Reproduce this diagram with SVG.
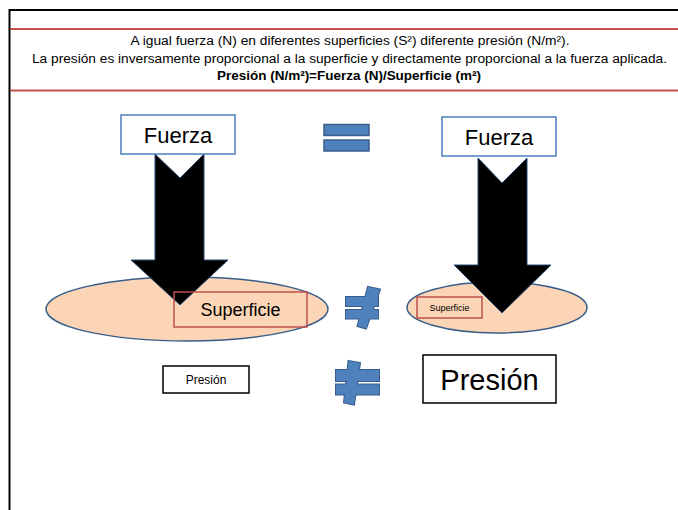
<svg xmlns="http://www.w3.org/2000/svg" width="678" height="510" viewBox="0 0 678 510">
<style>
.t{font-family:"Liberation Sans",Arial,sans-serif;fill:#000;text-anchor:middle}
.hb{fill:#fff;stroke:#4a7ebb;stroke-width:1.5}
.arrow{fill:#000;stroke:#2c4d75;stroke-width:1}
.ell{fill:#fbd5b5;stroke:#385d8a;stroke-width:1.5}
.sb{fill:none;stroke:#c0504d;stroke-width:1.5}
.pb{fill:#fff;stroke:#000;stroke-width:1.5}
.sym{fill:#4f81bd;stroke:#385d8a;stroke-width:1.5}
.symo{fill:#385d8a;stroke:#385d8a;stroke-width:2;stroke-linejoin:miter}
.symf{fill:#4f81bd}
.red{stroke:#c0504d;stroke-width:2}
</style>
<defs>
<g id="ne1">
<rect x="346" y="297" width="32" height="9"/>
<rect x="346" y="310" width="32" height="8.5"/>
<polygon points="368,287 380,289.5 366,328.5 357.5,326"/>
</g>
<g id="ne2">
<rect x="336" y="370" width="43" height="11"/>
<rect x="336" y="384.5" width="43" height="10"/>
<polygon points="348.5,361 360,363 354,404.5 344,402.5"/>
</g>
</defs>
<rect x="0" y="0" width="678" height="510" fill="#fff"/>
<g id="frame">
<path d="M9.5 510 V10 H678" fill="none" stroke="#000" stroke-width="2"/>
<line class="red" x1="10" y1="29" x2="678" y2="29"/>
<line class="red" x1="10" y1="90.5" x2="678" y2="90.5"/>
</g>
<g id="header">
<text class="t" x="350" y="45" font-size="12" textLength="439" lengthAdjust="spacingAndGlyphs">A igual fuerza (N) en diferentes superficies (S²) diferente presión (N/m²).</text>
<text class="t" x="349.5" y="63" font-size="12" textLength="635" lengthAdjust="spacingAndGlyphs">La presión es inversamente proporcional a la superficie y directamente proporcional a la fuerza aplicada.</text>
<text class="t" x="349" y="80" font-size="12" font-weight="bold" textLength="264" lengthAdjust="spacingAndGlyphs">Presión (N/m²)=Fuerza (N)/Superficie (m²)</text>
</g>
<g id="ellipse-left"><ellipse class="ell" cx="187" cy="309" rx="141" ry="32"/></g>
<g id="ellipse-right"><ellipse class="ell" cx="497" cy="307.5" rx="90" ry="25.5"/></g>
<g id="connectors">
<path class="arrow" d="M155 154 L180 178 L204 154 V260 H228 L180 305 L131 260 H155 Z"/>
<path class="arrow" d="M478 158 L502 183 L527 158 V265 H551 L502 313 L454 265 H478 Z"/>
</g>
<g id="fuerza-left">
<rect class="hb" x="121" y="115" width="114" height="39"/>
<text class="t" x="178" y="143" font-size="22">Fuerza</text>
</g>
<g id="fuerza-right">
<rect class="hb" x="442" y="117" width="114" height="39"/>
<text class="t" x="499" y="145" font-size="22">Fuerza</text>
</g>
<g id="superficie-left">
<rect class="sb" x="174" y="292" width="133" height="35"/>
<text class="t" x="240.5" y="316" font-size="18">Superficie</text>
</g>
<g id="superficie-right">
<rect class="sb" x="417" y="297" width="65" height="21"/>
<text class="t" x="449.5" y="311" font-size="9">Superficie</text>
</g>
<g id="presion-left">
<rect class="pb" x="163" y="366" width="86" height="27"/>
<text class="t" x="206" y="384" font-size="12">Presión</text>
</g>
<g id="presion-right">
<rect class="pb" x="423" y="355" width="133" height="48"/>
<text class="t" x="489.5" y="390" font-size="29">Presión</text>
</g>
<g id="equal">
<rect class="sym" x="324" y="124.5" width="45" height="11"/>
<rect class="sym" x="324" y="140" width="45" height="11"/>
</g>
<g id="noteq-mid">
<use href="#ne1" class="symo"/>
<use href="#ne1" class="symf"/>
</g>
<g id="noteq-low">
<use href="#ne2" class="symo"/>
<use href="#ne2" class="symf"/>
</g>
</svg>
